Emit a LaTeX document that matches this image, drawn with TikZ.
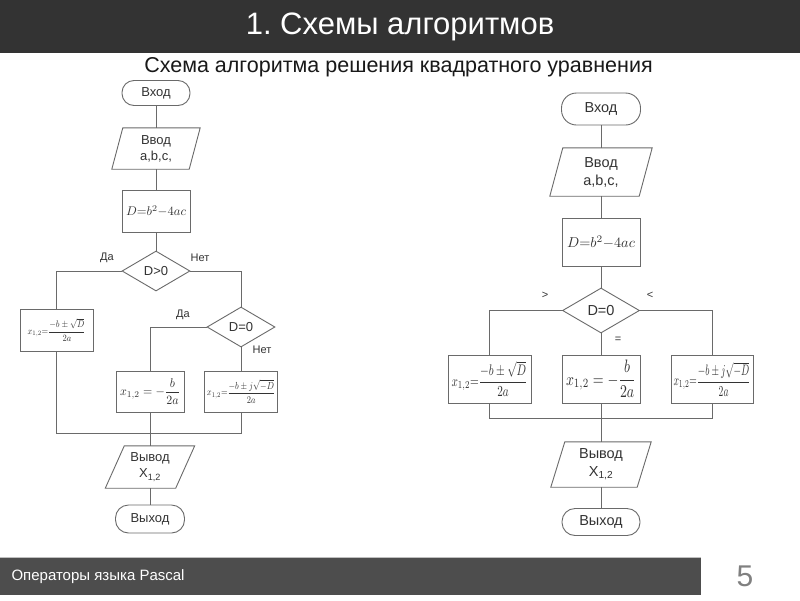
\documentclass[tikz,border=0pt]{standalone}
\usepackage[no-math]{fontspec}
\setmainfont{Liberation Sans}
\usepackage{graphicx}
\usetikzlibrary{shapes.geometric,calc}
\definecolor{hdr}{HTML}{333333}
\definecolor{ftr}{HTML}{4D4D4D}
\definecolor{ln}{HTML}{6A6A6A}
\definecolor{tx}{HTML}{333333}
\newcommand\fsz[1]{\fontsize{#1}{#1}\selectfont}
\newcommand\paral[2]{\draw[draw=ln,line width=0.9pt] ([xshift=#2]#1.north west) -- (#1.north east) -- ([xshift=-#2]#1.south east) -- (#1.south west) -- cycle;}
\newcommand\fml[3]{\resizebox*{#1}{#2}{$\displaystyle #3$}}
\frenchspacing
\begin{document}
\begin{tikzpicture}[x=1pt,y=-1pt,
  box/.style={draw=ln, line width=0.9pt, rectangle, inner sep=0pt, text=tx, align=center},
  iobox/.style={rectangle, draw=none, inner sep=0pt, text=tx, align=center},
  dia/.style={diamond, draw=ln, line width=0.9pt, inner sep=0pt, text=tx},
  conn/.style={draw=ln, line width=0.9pt},
  lbl/.style={inner sep=0pt, text=tx, font=\fsz{11}}
]
\useasboundingbox (0,0) rectangle (800,600);
\fill[white] (0,0) rectangle (800,600);
% header
\fill[hdr] (0,0) rectangle (800,53);
\node[text=white, font=\fsz{31}] (title) at (400,27) {1. Схемы алгоритмов};
\node[text=black!90, font=\fsz{21.5}] (sub) at (398.5,67) {Схема алгоритма решения квадратного уравнения};
% footer
\fill[ftr] (0,557) rectangle (701,595);
\draw[black!25, line width=0.8pt] (0,557) -- (701,557);
\node[anchor=west, text=white, font=\fsz{15}] (foot) at (8,577) {Операторы языка Pascal};
\node[text=black!50, font=\fsz{30}] (page) at (745,576) {5};

% ===== left chart =====
\node[box, rounded corners=12pt, minimum width=68pt, minimum height=25pt, font=\fsz{13}] (L0) at (156,93) {Вход};
\node[iobox, minimum width=88pt, minimum height=41pt, font=\fontsize{13}{16}\selectfont] (L1) at (156,148.5) {Ввод\\a,b,c,};
\paral{L1}{11pt}
\node[box, minimum width=68pt, minimum height=42pt] (L2) at (156,211) {\resizebox{60pt}{!}{$D{=}b^2{-}4ac$}};
\node[dia, minimum width=68pt, minimum height=40pt, font=\fsz{13}] (L3) at (156,271) {D>0};
\node[box, minimum width=73pt, minimum height=42pt] (L4) at (56.5,330) {\fml{58pt}{22pt}{x_{1,2}{=}\frac{-b\pm\sqrt{D}}{2a}}};
\node[dia, minimum width=68pt, minimum height=40pt, font=\fsz{13}] (L5) at (241,327) {D=0};
\node[box, minimum width=68pt, minimum height=41pt] (L6) at (150,391.5) {\fml{60pt}{26pt}{x_{1,2}=-\frac{b}{2a}}};
\node[box, minimum width=73pt, minimum height=41pt] (L7) at (241,391.5) {\fml{68pt}{23pt}{x_{1,2}{=}\frac{-b\pm j\sqrt{-D}}{2a}}};
\coordinate (LJ) at (150,433);
\node[iobox, minimum width=89pt, minimum height=42pt, font=\fontsize{13}{16}\selectfont] (L8) at (150,467) {Вывод\\X\textsubscript{1,2}};
\paral{L8}{19pt}
\node[box, rounded corners=13pt, minimum width=69pt, minimum height=28pt, font=\fsz{13}] (L9) at (150,519) {Выход};

\node[lbl] (la1) at (107,258) {Да};
\node[lbl] (la2) at (200,258) {Нет};
\node[lbl] (la3) at (183,315) {Да};
\node[lbl] (la4) at (262,350) {Нет};

\draw[conn] (L0) -- (L1);
\draw[conn] (L1) -- (L2);
\draw[conn] (L2) -- (L3);
\draw[conn] (L3.west) -| (L4.north);
\draw[conn] (L3.east) -| (L5.north);
\draw[conn] (L5.west) -| (L6.north);
\draw[conn] (L5.south) -- (L7.north);
\draw[conn] (L4.south) |- (LJ);
\draw[conn] (L7.south) |- (LJ);
\draw[conn] (L6.south) -- (L8.north);
\draw[conn] (L8) -- (L9);

% ===== right chart =====
\node[box, rounded corners=15pt, minimum width=79pt, minimum height=32pt, font=\fsz{14.5}] (R0) at (601,109) {Вход};
\node[iobox, minimum width=102pt, minimum height=48pt, font=\fontsize{14.5}{18}\selectfont] (R1) at (601,172) {Ввод\\a,b,c,};
\paral{R1}{13pt}
\node[box, minimum width=78pt, minimum height=48pt] (R2) at (601,242) {\resizebox{68pt}{!}{$D{=}b^2{-}4ac$}};
\node[dia, minimum width=77pt, minimum height=45pt, font=\fsz{14.5}] (R3) at (601,310.5) {D=0};
\node[box, minimum width=83pt, minimum height=48pt] (R4) at (489.5,379) {\fml{76pt}{35pt}{x_{1,2}{=}\frac{-b\pm\sqrt{D}}{2a}}};
\node[box, minimum width=78pt, minimum height=48pt] (R5) at (601,379) {\fml{70pt}{37pt}{x_{1,2}=-\frac{b}{2a}}};
\node[box, minimum width=82pt, minimum height=48pt] (R6) at (712,379) {\fml{77pt}{34pt}{x_{1,2}{=}\frac{-b\pm j\sqrt{-D}}{2a}}};
\coordinate (RJ) at (601,418);
\node[iobox, minimum width=100pt, minimum height=45pt, font=\fontsize{14.5}{18}\selectfont] (R7) at (601,464.5) {Вывод\\X\textsubscript{1,2}};
\paral{R7}{14pt}
\node[box, rounded corners=13pt, minimum width=78pt, minimum height=27pt, font=\fsz{14.5}] (R8) at (601,522) {Выход};

\node[lbl] (ra1) at (545,295) {>};
\node[lbl] (ra2) at (650,295) {<};
\node[lbl] (ra3) at (618,340) {=};

\draw[conn] (R0) -- (R1);
\draw[conn] (R1) -- (R2);
\draw[conn] (R2) -- (R3);
\draw[conn] (R3.west) -| (R4.north);
\draw[conn] (R3.east) -| (R6.north);
\draw[conn] (R3.south) -- (R5.north);
\draw[conn] (R4.south) |- (RJ);
\draw[conn] (R6.south) |- (RJ);
\draw[conn] (R5.south) -- (R7.north);
\draw[conn] (R7) -- (R8);
\end{tikzpicture}
\end{document}
